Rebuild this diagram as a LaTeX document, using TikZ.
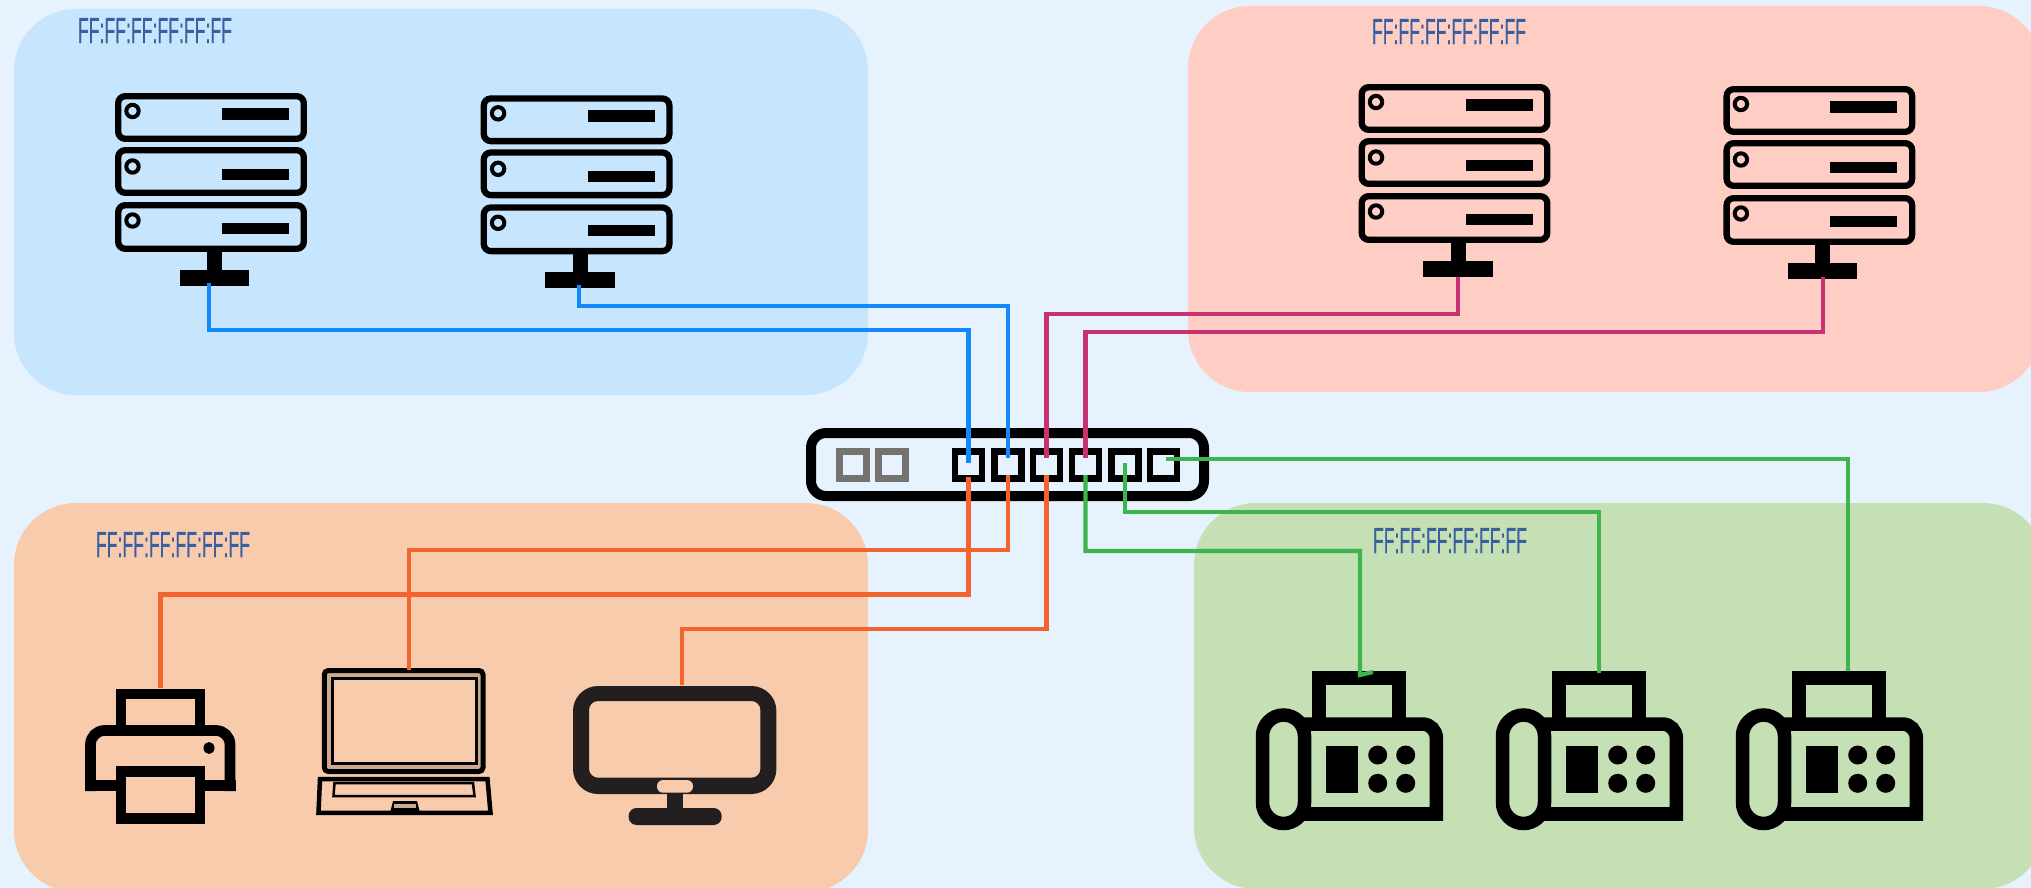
\documentclass[tikz,border=0pt]{standalone}
\usepackage{graphicx}
\usepackage{fontspec}
\newfontfamily\macfont[FakeBold=0.6]{Liberation Sans}
\definecolor{bgc}{HTML}{E6F3FF}
\definecolor{bluereg}{HTML}{C7E5FC}
\definecolor{redreg}{HTML}{FECDC4}
\definecolor{orangereg}{HTML}{F8CBAD}
\definecolor{greenreg}{HTML}{C5E0B4}
\definecolor{bluew}{HTML}{1289FA}
\definecolor{magw}{HTML}{C93272}
\definecolor{orangew}{HTML}{F2632E}
\definecolor{greenw}{HTML}{3CB54A}
\definecolor{mactext}{HTML}{3A5FA0}
\definecolor{monc}{HTML}{231F20}
\definecolor{portgrey}{HTML}{767270}
\definecolor{lapgap}{HTML}{CDA98F}
\tikzset{
  region/.style={rounded corners=62pt},
  portbox/.style={draw=black,line width=6.3pt,minimum size=27pt,inner sep=0pt,outer sep=0pt},
  greyport/.style={portbox,draw=portgrey},
  wire/.style={line width=4.2pt,line join=miter,line cap=butt},
  bluewire/.style={wire,draw=bluew},
  magwire/.style={wire,draw=magw},
  orangewire/.style={wire,draw=orangew},
  greenwire/.style={wire,draw=greenw},
  maclabel/.style={anchor=north west,inner sep=0pt,outer sep=0pt,text=mactext},
  ink/.style={draw=black,line join=miter},
}
\newcommand{\maclabeltext}{\resizebox{154pt}{25pt}{\macfont FF:FF:FF:FF:FF:FF}}
\newcommand{\serverbody}[2]{%
  \begin{scope}[shift={(#1,#2)}]
    \draw[ink,line width=6.3pt,rounded corners=7pt] (118.2,96.2) rectangle (303.8,138.8);
    \draw[ink,line width=6.3pt,rounded corners=7pt] (118.2,150.2) rectangle (303.8,192.8);
    \draw[ink,line width=6.3pt,rounded corners=7pt] (118.2,205.2) rectangle (303.8,248.8);
    \draw[black,line width=4pt] (132.5,111) circle (6.2pt);
    \draw[black,line width=4pt] (132.5,166.5) circle (6.2pt);
    \draw[black,line width=4pt] (132.5,220.5) circle (6.2pt);
    \fill[black] (222,108) rectangle (289,120);
    \fill[black] (222,169) rectangle (289,180);
    \fill[black] (222,223) rectangle (289,234);
    \fill[black] (207,250) rectangle (222,270);
    \fill[black] (179.5,270) rectangle (249,286);
  \end{scope}
}
\newcommand{\faxbody}[1]{%
  \begin{scope}[shift={(#1,0)}]
    \draw[ink,line width=14pt] (1318.7,724) -- (1318.7,677.5) -- (1398.7,677.5) -- (1398.7,724);
    \draw[ink,line width=13.5pt,rounded corners=21pt] (1262.5,715) rectangle (1304.5,823.5);
    \draw[ink,line width=13.5pt,rounded corners=14pt] (1436.3,820.7) -- (1436.3,724) -- (1300,724);
    \draw[ink,line width=14pt] (1443.3,813.7) -- (1300,813.7);
    \fill[black] (1325.7,746) rectangle (1358.3,792.7);
    \fill[black] (1377.7,755) circle (9.5pt);
    \fill[black] (1405.7,755) circle (9.5pt);
    \fill[black] (1377.7,783.3) circle (9.5pt);
    \fill[black] (1405.7,783.3) circle (9.5pt);
  \end{scope}
}
\begin{document}
\begin{tikzpicture}[x=1pt,y=-1pt]
\useasboundingbox (0,0) rectangle (2031,888);
\clip (0,0) rectangle (2031,888);
\fill[bgc] (0,0) rectangle (2031,888);
% regions
\fill[bluereg,region] (14,9) rectangle (868,395);
\fill[redreg,region] (1188,6) rectangle (2041,392);
\fill[orangereg,region] (14,503) rectangle (868,892);
\fill[greenreg,region] (1194,503) rectangle (2045,889);
% labels
\node[maclabel] (lab1) at (78,18) {\maclabeltext};
\node[maclabel] (lab2) at (1372,19) {\maclabeltext};
\node[maclabel] (lab3) at (96,532) {\maclabeltext};
\node[maclabel] (lab4) at (1373,528) {\maclabeltext};
% servers
\serverbody{0}{0}
\serverbody{365.6}{2.3}
\serverbody{1243.5}{-9}
\serverbody{1608.4}{-7}
% switch
\draw[draw=black,line width=10pt,rounded corners=15pt] (811,433) rectangle (1204,496);
\node[greyport] (g1) at (853,465) {};
\node[greyport] (g2) at (892,465) {};
\node[portbox] (p1) at (968.5,465) {};
\node[portbox] (p2) at (1008,465) {};
\node[portbox] (p3) at (1046.5,465) {};
\node[portbox] (p4) at (1085.5,465) {};
\node[portbox] (p5) at (1125,465) {};
\node[portbox] (p6) at (1163.5,465) {};
% printer
\draw[ink,line width=10.7pt] (121,730) -- (121,694) -- (200,694) -- (200,730);
\draw[ink,line width=10.7pt,rounded corners=14pt] (90.5,791) -- (90.5,730.5) -- (230,730.5) -- (230,791);
\draw[ink,line width=10.7pt] (85,785.5) -- (121,785.5) (200,785.5) -- (235.5,785.5);
\draw[ink,line width=10.7pt] (121,771.5) rectangle (200,818.5);
\fill[black] (209,748) ellipse (5.5pt and 6pt);
% laptop
\draw[draw=lapgap,line width=4.4pt] (329,675) rectangle (479,767);
\draw[ink,line width=5pt,rounded corners=4pt] (324.3,670.5) rectangle (483,771.5);
\draw[ink,line width=3pt] (332.5,678.5) rectangle (476.5,763.5);
\draw[ink,line width=4.5pt] (320,779) -- (487.5,779) -- (490.5,812.8) -- (318.5,812.8) -- cycle;
\draw[ink,line width=2.5pt] (334.5,783) -- (473,783) -- (474.5,796) -- (333.5,796) -- cycle;
\fill[black] (390,813) -- (393,801) -- (417,801) -- (420,813) -- cycle;
\fill[lapgap] (393.5,804) rectangle (416,808);
% monitor
\fill[monc,even odd rule,rounded corners=25pt] (573,686) rectangle (776.4,794) [rounded corners=9pt] (589,701) rectangle (760.4,777.7);
\fill[orangereg,rounded corners=6pt] (657,780) rectangle (693,792.7);
\fill[monc] (667,792.7) rectangle (683,810);
\fill[monc,rounded corners=8pt] (628.6,808) rectangle (721.7,825);
% fax
\faxbody{0}
\faxbody{240}
\faxbody{480}
% wire anchors
\coordinate (s1) at (209,283);
\coordinate (s2) at (579,285);
\coordinate (s3) at (1457.7,277);
\coordinate (s4) at (1822.6,277);
\coordinate (pt) at (160.5,688);
\coordinate (lt) at (409,670);
\coordinate (mo) at (682,685);
\coordinate (f1) at (1360,675);
\coordinate (f1t) at (1373,672);
\coordinate (f2) at (1599,673);
\coordinate (f3) at (1848,671);
\coordinate (g4) at (1360,551);
\coordinate (g5) at (1599,512);
% wires
\draw[bluewire] (s1) |- (968.5,330) -- (968.5,463);
\draw[bluewire] (s2) |- (1008,306) -- (1008,458);
\draw[magwire] (s3) |- (1046.5,314) -- (1046.5,458);
\draw[magwire] (s4) |- (1085.5,332) -- (1085.5,458);
\draw[orangewire] (pt) |- (968.5,594.5) -- (968.5,477);
\draw[orangewire] (lt) |- (1008,550) -- (1008,475);
\draw[orangewire] (mo) |- (1046.5,629) -- (1046.5,475);
\draw[greenwire] (1085.5,475) |- (g4) -- (f1) -- (f1t);
\draw[greenwire] (1125,463) |- (g5) -- (f2);
\draw[greenwire] (1166,459) -| (f3);
\end{tikzpicture}
\end{document}
